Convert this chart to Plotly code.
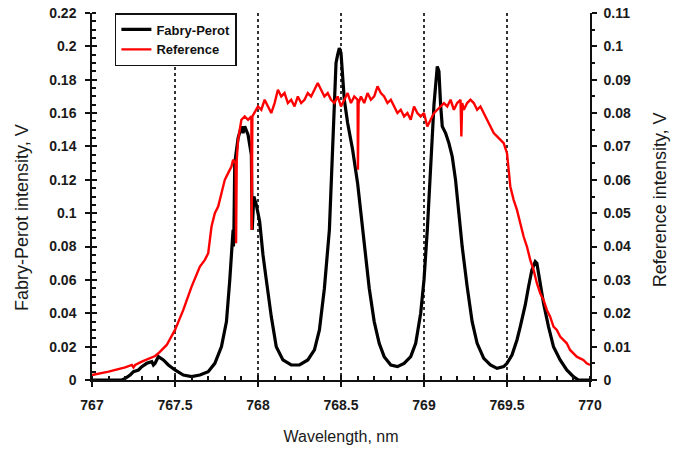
import plotly.graph_objects as go

# Fabry-Perot signal (left axis, V)
fp_wl = [767.00, 767.18, 767.20, 767.23, 767.25, 767.28, 767.30, 767.33, 767.36, 767.37, 767.38, 767.40,
         767.43, 767.46, 767.50, 767.55, 767.60, 767.65, 767.70, 767.74, 767.78, 767.81, 767.83, 767.85,
         767.852, 767.855, 767.86, 767.88, 767.90, 767.91, 767.92, 767.94, 767.96, 767.965, 767.975, 767.99,
         768.01, 768.03, 768.05, 768.08, 768.11, 768.15, 768.20, 768.25, 768.30, 768.34, 768.37, 768.40,
         768.43, 768.45, 768.47, 768.48, 768.49, 768.50, 768.51, 768.52, 768.54, 768.57, 768.60, 768.62,
         768.64, 768.67, 768.70, 768.73, 768.76, 768.80, 768.84, 768.88, 768.92, 768.95, 768.98, 769.00,
         769.02, 769.04, 769.06, 769.08, 769.09, 769.10, 769.11, 769.13, 769.15, 769.17, 769.19, 769.21,
         769.23, 769.26, 769.29, 769.32, 769.36, 769.40, 769.44, 769.48, 769.50, 769.53, 769.56, 769.58,
         769.61, 769.63, 769.65, 769.67, 769.68, 769.70, 769.72, 769.75, 769.78, 769.82, 769.86, 769.90,
         769.93, 770.00]
fp_val = [0.0, 0.0, 0.001, 0.003, 0.005, 0.006, 0.008, 0.010, 0.011, 0.009, 0.010, 0.014,
          0.012, 0.009, 0.006, 0.003, 0.002, 0.003, 0.005, 0.010, 0.020, 0.035, 0.060, 0.090,
          0.080, 0.090, 0.130, 0.145, 0.152, 0.148, 0.152, 0.147, 0.135, 0.090, 0.110, 0.105,
          0.095, 0.075, 0.060, 0.038, 0.020, 0.012, 0.009, 0.009, 0.012, 0.018, 0.030, 0.055,
          0.090, 0.140, 0.190, 0.195, 0.199, 0.196, 0.180, 0.168, 0.154, 0.138, 0.118, 0.100,
          0.080, 0.055, 0.035, 0.022, 0.014, 0.009, 0.008, 0.010, 0.014, 0.022, 0.040, 0.060,
          0.090, 0.125, 0.165, 0.188, 0.185, 0.165, 0.152, 0.148, 0.142, 0.134, 0.120, 0.100,
          0.080, 0.056, 0.035, 0.022, 0.013, 0.009, 0.007, 0.008, 0.010, 0.015, 0.024, 0.032,
          0.045, 0.056, 0.066, 0.071, 0.070, 0.058, 0.046, 0.032, 0.020, 0.012, 0.006, 0.002,
          0.0, 0.0]

# Reference signal (right axis, V)
ref_wl = [767.00, 767.10, 767.20, 767.24, 767.25, 767.26, 767.30, 767.35, 767.38, 767.40, 767.45, 767.50,
          767.55, 767.60, 767.65, 767.68, 767.70, 767.72, 767.74, 767.76, 767.78, 767.80, 767.82, 767.84,
          767.85, 767.865, 767.868, 767.872, 767.88, 767.90, 767.92, 767.94, 767.96, 767.962, 767.966, 768.00,
          768.02, 768.04, 768.06, 768.08, 768.10, 768.12, 768.14, 768.16, 768.18, 768.20, 768.22, 768.24,
          768.26, 768.28, 768.30, 768.32, 768.34, 768.36, 768.38, 768.40, 768.42, 768.44, 768.46, 768.48,
          768.50, 768.52, 768.54, 768.56, 768.58, 768.60, 768.602, 768.606, 768.62, 768.64, 768.66, 768.68,
          768.70, 768.72, 768.74, 768.76, 768.78, 768.80, 768.82, 768.84, 768.86, 768.88, 768.90, 768.92,
          768.94, 768.96, 768.98, 769.00, 769.02, 769.04, 769.06, 769.08, 769.10, 769.12, 769.14, 769.16,
          769.18, 769.20, 769.22, 769.225, 769.23, 769.24, 769.26, 769.28, 769.30, 769.32, 769.34, 769.36,
          769.38, 769.40, 769.42, 769.44, 769.46, 769.48, 769.50, 769.52, 769.54, 769.56, 769.58, 769.60,
          769.62, 769.64, 769.66, 769.68, 769.70, 769.72, 769.74, 769.76, 769.78, 769.80, 769.82, 769.84,
          769.86, 769.88, 769.90, 769.92, 769.94, 769.96, 769.98, 770.00]
ref_val = [0.0015, 0.0025, 0.0038, 0.0045, 0.0038, 0.0045, 0.0055, 0.0065, 0.0072, 0.0080, 0.0105, 0.0150,
           0.0210, 0.0280, 0.0340, 0.0360, 0.0380, 0.0460, 0.0500, 0.0520, 0.0560, 0.0600, 0.0620, 0.0640,
           0.0660, 0.0650, 0.0410, 0.0660, 0.0720, 0.0780, 0.0790, 0.0780, 0.0790, 0.0450, 0.0790, 0.0820,
           0.0810, 0.0840, 0.0820, 0.0800, 0.0830, 0.0870, 0.0850, 0.0860, 0.0830, 0.0840, 0.0820, 0.0850,
           0.0830, 0.0840, 0.0860, 0.0850, 0.0870, 0.0890, 0.0870, 0.0850, 0.0860, 0.0840, 0.0830, 0.0850,
           0.0820, 0.0840, 0.0860, 0.0830, 0.0850, 0.0840, 0.0630, 0.0830, 0.0850, 0.0830, 0.0860, 0.0840,
           0.0850, 0.0880, 0.0860, 0.0850, 0.0830, 0.0840, 0.0820, 0.0800, 0.0810, 0.0790, 0.0800, 0.0780,
           0.0820, 0.0800, 0.0790, 0.0800, 0.0760, 0.0780, 0.0800, 0.0810, 0.0820, 0.0830, 0.0820, 0.0840,
           0.0810, 0.0830, 0.0840, 0.0730, 0.0830, 0.0810, 0.0830, 0.0840, 0.0830, 0.0810, 0.0820, 0.0800,
           0.0780, 0.0760, 0.0740, 0.0730, 0.0720, 0.0710, 0.0680, 0.0580, 0.0540, 0.0510, 0.0470, 0.0430,
           0.0400, 0.0360, 0.0330, 0.0290, 0.0260, 0.0240, 0.0210, 0.0190, 0.0160, 0.0150, 0.0130, 0.0120,
           0.0110, 0.0090, 0.0080, 0.0070, 0.0065, 0.0060, 0.0050, 0.0045]

x_ticks = [767, 767.5, 768, 768.5, 769, 769.5, 770]
x_tick_text = ["767", "767.5", "768", "768.5", "769", "769.5", "770"]
left_ticks = [0, 0.02, 0.04, 0.06, 0.08, 0.1, 0.12, 0.14, 0.16, 0.18, 0.2, 0.22]
left_tick_text = ["0", "0.02", "0.04", "0.06", "0.08", "0.1", "0.12", "0.14", "0.16", "0.18", "0.2", "0.22"]
right_ticks = [0, 0.01, 0.02, 0.03, 0.04, 0.05, 0.06, 0.07, 0.08, 0.09, 0.1, 0.11]
right_tick_text = ["0", "0.01", "0.02", "0.03", "0.04", "0.05", "0.06", "0.07", "0.08", "0.09", "0.1", "0.11"]

FONT = "Liberation Sans, Arial, sans-serif"
tickfont = dict(family=FONT, size=14, color="#1a1a1a", weight="bold")
ytitlefont = dict(family=FONT, size=18, color="#1a1a1a")
xtitlefont = dict(family=FONT, size=16, color="#1a1a1a")

fig = go.Figure()
fig.add_trace(go.Scatter(x=fp_wl, y=fp_val, mode="lines", name="Fabry-Perot",
                         line=dict(color="black", width=3.2), xaxis="x", yaxis="y"))
fig.add_trace(go.Scatter(x=ref_wl, y=ref_val, mode="lines", name="Reference",
                         line=dict(color="#ff0000", width=2.4), xaxis="x", yaxis="y2"))
# ghost trace on overlay axes to draw inward halves of the crossing ticks
fig.add_trace(go.Scatter(x=[767], y=[0], mode="markers", marker=dict(opacity=0),
                         showlegend=False, hoverinfo="skip", xaxis="x2", yaxis="y3"))

common = dict(showline=True, linecolor="#111", linewidth=1.5, ticks="outside", ticklen=5,
              tickwidth=1.5, tickcolor="#111", zeroline=False, tickfont=tickfont, automargin=False)

fig.update_layout(
    width=681, height=451,
    margin=dict(l=92, r=91, t=13, b=71, autoexpand=False),
    paper_bgcolor="white", plot_bgcolor="white",
    showlegend=True,
    legend=dict(x=0.046, y=1.0, xanchor="left", yanchor="top",
                bordercolor="#111", borderwidth=1.5, bgcolor="white",
                font=dict(family=FONT, size=13, color="#111", weight="bold"),
                tracegroupgap=0, itemwidth=30),
    xaxis=dict(range=[767, 770], tickvals=x_ticks, ticktext=x_tick_text,
               showgrid=True, griddash="dot", gridcolor="#333", gridwidth=1.5,
               minor=dict(dtick=0.1, ticks="inside", ticklen=4, tickcolor="#111", showgrid=False),
               ticklabelstandoff=6,
               title=dict(text="Wavelength, nm", font=xtitlefont, standoff=19),
               **common),
    yaxis=dict(range=[0, 0.22], tickvals=left_ticks, ticktext=left_tick_text, showgrid=False,
               minor=dict(dtick=0.005, ticks="inside", ticklen=4, tickcolor="#111"),
               ticklabelstandoff=6,
               **common),
    yaxis2=dict(range=[0, 0.11], tickvals=right_ticks, ticktext=right_tick_text, showgrid=False,
                overlaying="y", side="right", anchor="x",
                minor=dict(dtick=0.005, ticks="outside", ticklen=3, tickcolor="#111"),
                ticklabelstandoff=4,
                **common),
    xaxis2=dict(range=[767, 770], overlaying="x", anchor="y3", showline=False, showgrid=False,
                zeroline=False, showticklabels=False, tickvals=x_ticks, ticks="inside",
                ticklen=5, tickwidth=1.5, tickcolor="#111", automargin=False),
    yaxis3=dict(range=[0, 0.22], overlaying="y", anchor="x2", side="left", showline=False,
                showgrid=False, zeroline=False, showticklabels=False, tickvals=left_ticks,
                ticks="inside", ticklen=5, tickwidth=1.5, tickcolor="#111", automargin=False),
    annotations=[
        dict(text="Fabry-Perot intensity, V", xref="paper", yref="paper", x=-0.1406, y=0.444,
             xanchor="center", yanchor="middle", textangle=-90, showarrow=False, font=ytitlefont),
        dict(text="Reference intensity, V", xref="paper", yref="paper", x=1.1406, y=0.49,
             xanchor="center", yanchor="middle", textangle=-90, showarrow=False, font=ytitlefont),
    ],
)

fig.write_html("out.html", config={"displayModeBar": False},
               post_script="document.body.style.margin='0';document.body.style.padding='0';")
